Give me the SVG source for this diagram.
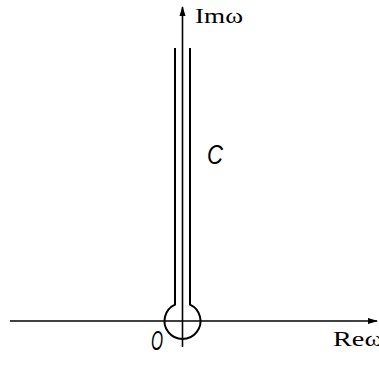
<svg xmlns="http://www.w3.org/2000/svg" width="379" height="371" viewBox="0 0 379 371">
<defs>
<style>
.ln{fill:none;stroke:#000;stroke-width:2}
.ax{fill:none;stroke:#000;stroke-width:1.6}
.t{font-family:"Liberation Serif","DejaVu Serif",serif;font-size:22px;fill:#000}
.it{font-family:"Liberation Sans","DejaVu Sans",sans-serif;font-style:italic;font-size:27px;font-weight:300;fill:#000}
</style>
<marker id="arr" viewBox="0 0 10 10" refX="9" refY="5" markerWidth="10" markerHeight="10" markerUnits="userSpaceOnUse" orient="auto">
<path d="M0,2 L10,5 L0,8 Z" fill="#000"/>
</marker>
</defs>
<g id="connectors">
<line class="ax" x1="182.5" y1="347" x2="182.5" y2="7" marker-end="url(#arr)"/>
<line class="ax" x1="10" y1="321" x2="377" y2="321" marker-end="url(#arr)"/>
</g>
<g id="contour">
<path class="ln" d="M175,48 V304.6 A18,18 0 1 0 190,304.6 V48"/>
</g>
<g id="labels">
<text class="t" x="195" y="23" textLength="48" lengthAdjust="spacingAndGlyphs">Imω</text>
<text class="it" x="207" y="164" textLength="16" lengthAdjust="spacingAndGlyphs">C</text>
<text class="it" x="151" y="350" font-size="23" textLength="12" lengthAdjust="spacingAndGlyphs">O</text>
<text class="t" x="333" y="346" textLength="50" lengthAdjust="spacingAndGlyphs">Reω</text>
</g>
</svg>
